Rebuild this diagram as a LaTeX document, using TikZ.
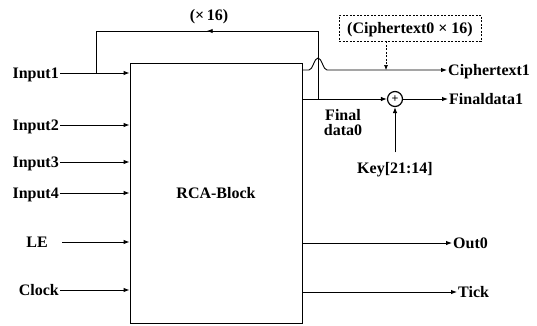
\documentclass[tikz,border=0pt]{standalone}
\usepackage{fontspec}
\setmainfont{Liberation Serif}
\usetikzlibrary{arrows.meta, positioning, calc, decorations.markings}

\begin{document}
\begin{tikzpicture}[
    x=1pt, y=-1pt,
    wire/.style={line width=0.9pt},
    myarrow/.style={wire, -{Latex[length=6pt, width=4.5pt]}},
    dasharrow/.style={line width=0.6pt, dash pattern=on 2pt off 1.5pt, -{Latex[length=5pt, width=4pt]}},
    sig/.style={font=\fontsize{16}{15}\selectfont\bfseries, inner sep=1pt, text height=10.8pt, text depth=0pt},
    midarrow/.style={postaction={decorate}, decoration={markings,
        mark=at position #1 with {\arrow{Latex[length=6pt, width=4.5pt]}}}},
]
\useasboundingbox (0,0) rectangle (537,325);

% ===================== BLOCK =====================
\node[draw, wire, sig, minimum width=172pt, minimum height=260pt] (rca) at (216,193) {RCA-Block};

% ===================== INPUTS =====================
\foreach \name/\y in {Input1/73, Input2/125, Input3/162, Input4/193, Clock/290} {
    \node[sig, anchor=east] (in\name) at (60,\y) {\name};
    \draw[myarrow] (in\name.east) -- (in\name.east -| rca.west);
}
\node[sig, anchor=east] (inLE) at (49,242) {LE};
\draw[myarrow] ([xshift=13pt]inLE.east) -- (inLE.east -| rca.west);

% ===================== FEEDBACK (x16) =====================
\coordinate (fbtap) at (96,73);
\coordinate (fbjoin) at (318,99);
\draw[wire, midarrow=0.54] (fbjoin) -- (318,31) -- (96,31) -- (fbtap);
\node[sig] (times) at (209,15) {(×\,16)};

% ===================== CIPHERTEXT =====================
\coordinate (cout) at (302,70);
\node[sig, anchor=west] (ct1) at (447,70) {Ciphertext1};
\draw[myarrow] (cout) -- (309,70) .. controls (313,70) and (314,58) .. (318,58)
    .. controls (322,58) and (323,70) .. (327,70) -- (ct1.west);

\node[draw, line width=0.6pt, dash pattern=on 2pt off 1.5pt, sig,
      minimum width=142pt, minimum height=26pt] (ct0) at (410,28) {(Ciphertext0 × 16)};
\draw[dasharrow] ([xshift=-24pt]ct0.south) -- ([xshift=-24pt]ct0.south |- cout);

% ===================== FINAL DATA =====================
\node[draw, circle, line width=1.2pt, inner sep=0pt, minimum size=15pt,
      font=\fontsize{12}{12}\selectfont\bfseries] (xor) at (395,99) {+};
\coordinate (fd0) at (rca.east |- xor);
\draw[myarrow] (fd0) -- (xor.west);
\node[sig, anchor=west] (fd1) at (448,99) {Finaldata1};
\draw[myarrow] (xor.east) -- (fd1.west);
\node[sig, align=center] (fdlabel) at (343,130) {Final\\data0};

\node[sig] (key) at (395,168) {Key[21:14]};
\draw[myarrow] ([yshift=9pt]key.north) -- (xor.south);

% ===================== OUTPUTS =====================
\foreach \name/\y/\x in {Out0/243/452, Tick/292/457} {
    \node[sig, anchor=west] (o\name) at (\x,\y) {\name};
    \draw[myarrow] (o\name.west -| rca.east) -- (o\name.west);
}

\end{tikzpicture}
\end{document}
